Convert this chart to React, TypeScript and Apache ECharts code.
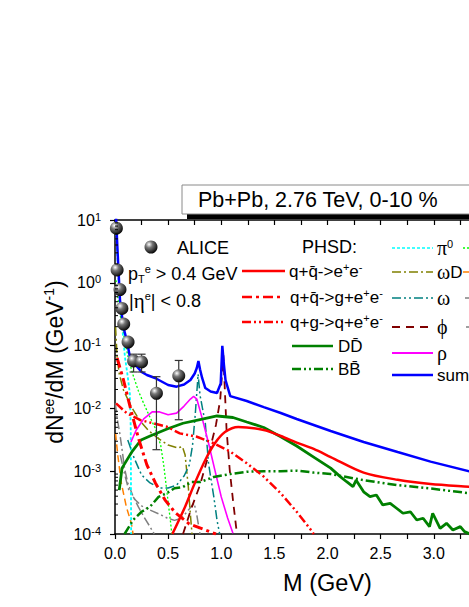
import React, { useEffect, useRef } from 'react';
import * as echarts from 'echarts';

// ---------- data (M in GeV, dN/dM in 1/GeV) ----------
const aliceM = [0.013, 0.02, 0.047, 0.065, 0.082, 0.123, 0.175, 0.25, 0.39, 0.6];
const aliceV = [7.4, 1.6, 0.78, 0.39, 0.22, 0.114, 0.057, 0.055, 0.0174, 0.033];
const aliceLo = [6.6, 1.4, 0.68, 0.34, 0.19, 0.1, 0.038, 0.038, 0.0022, 0.0066];
const aliceHi = [8.2, 1.8, 0.88, 0.44, 0.25, 0.13, 0.073, 0.073, 0.032, 0.058];

const sumData = [[0.01, 11], [0.02, 4.5], [0.031, 1.8], [0.047, 0.53], [0.078, 0.2], [0.11, 0.123], [0.14, 0.0665], [0.19, 0.05], [0.25, 0.038], [0.3, 0.034], [0.377, 0.0305], [0.5, 0.0236], [0.58, 0.0222], [0.65, 0.024], [0.71, 0.0283], [0.75, 0.036], [0.77, 0.044], [0.785, 0.057], [0.8, 0.042], [0.82, 0.0305], [0.85, 0.0211], [0.9, 0.0186], [0.96, 0.0176], [0.995, 0.025], [1.01, 0.099], [1.025, 0.05], [1.04, 0.0283], [1.085, 0.0157], [1.24, 0.0131], [1.4, 0.0105], [1.56, 0.00845], [1.71, 0.00678], [1.87, 0.00545], [2.03, 0.00437], [2.34, 0.00292], [2.66, 0.00202], [2.97, 0.00142], [3.34, 0.00099], [3.45, 0.0009]];

const ddbarData = [[0.04, 5e-4], [0.066, 1.12e-3], [0.16, 2.05e-3], [0.245, 3.14e-3], [0.33, 3.64e-3], [0.49, 4.7e-3], [0.64, 5.8e-3], [0.8, 6.65e-3], [0.96, 7.57e-3], [1.11, 7.16e-3], [1.24, 6.07e-3], [1.4, 4.97e-3], [1.56, 3.54e-3], [1.71, 2.52e-3], [1.87, 1.68e-3], [2.03, 1.12e-3], [2.12, 8.2e-4], [2.18, 6.8e-4], [2.24, 5.66e-4], [2.27, 7.2e-4], [2.34, 4.7e-4], [2.4, 3.93e-4], [2.46, 4.18e-4], [2.52, 2.9e-4], [2.59, 3.08e-4], [2.65, 2.57e-4], [2.71, 2.14e-4], [2.78, 2.26e-4], [2.84, 1.67e-4], [2.9, 1.78e-4], [2.96, 1.31e-4], [2.99, 2.14e-4], [3.06, 1.23e-4], [3.12, 1.48e-4], [3.18, 1.16e-4], [3.25, 1.31e-4], [3.29, 1.09e-4], [3.4, 9e-5]];

const bbbarData = [[0.09, 1.0e-4], [0.17, 1.67e-4], [0.25, 2.26e-4], [0.33, 2.72e-4], [0.41, 3.9e-4], [0.49, 4.5e-4], [0.56, 5.35e-4], [0.64, 5.6e-4], [0.72, 6.7e-4], [0.8, 6.7e-4], [0.93, 8.1e-4], [1.085, 9.0e-4], [1.24, 9.8e-4], [1.4, 1.0e-3], [1.56, 1.0e-3], [1.71, 1.02e-3], [1.87, 9.5e-4], [2.03, 9.0e-4], [2.34, 7.2e-4], [2.66, 6.0e-4], [2.97, 5.3e-4], [3.34, 4.45e-4], [3.45, 4.2e-4]];

const qqData = [[0.54, 1e-4], [0.66, 2.72e-4], [0.75, 6.4e-4], [0.85, 1.51e-3], [0.94, 2.78e-3], [1.035, 4.2e-3], [1.16, 5.06e-3], [1.4, 4.53e-3], [1.56, 3.64e-3], [1.71, 2.86e-3], [1.87, 2.26e-3], [2.03, 1.68e-3], [2.34, 9.5e-4], [2.66, 7.3e-4], [2.97, 6.25e-4], [3.34, 5.66e-4], [3.45, 5.5e-4]];

const qqgData = [[0.02, 0.0635], [0.08, 0.0283], [0.15, 9.4e-3], [0.22, 3.38e-3], [0.3, 1.26e-3], [0.38, 6.5e-4], [0.47, 3.5e-4], [0.57, 2.16e-4], [0.7, 1.44e-4], [0.85, 1.16e-4], [0.95, 1.0e-4]];

const qgData = [[0.01, 0.012], [0.11, 8.4e-3], [0.24, 6.5e-3], [0.49, 5.1e-3], [0.61, 4.0e-3], [0.77, 3.54e-3], [0.93, 2.78e-3], [1.085, 2.05e-3], [1.24, 1.34e-3], [1.4, 8.2e-4], [1.56, 4.45e-4], [1.71, 2.26e-4], [1.855, 1.1e-4], [1.87, 1.0e-4]];

const rhoData = [[0.15, 2.92e-3], [0.2, 4.53e-3], [0.27, 6.8e-3], [0.35, 8.8e-3], [0.42, 8.8e-3], [0.5, 7.9e-3], [0.58, 8.4e-3], [0.65, 0.0109], [0.71, 0.0141], [0.74, 0.0155], [0.77, 0.0141], [0.82, 7.0e-3], [0.88, 2.81e-3], [0.94, 1.04e-3], [1.0, 3.9e-4], [1.06, 1.8e-4], [1.11, 1.03e-4]];

const omegaData = [[0.12, 3.14e-3], [0.18, 1.62e-3], [0.25, 8.7e-4], [0.33, 6.5e-4], [0.42, 5.4e-4], [0.5, 5.4e-4], [0.58, 6.0e-4], [0.65, 8.4e-4], [0.7, 1.26e-3], [0.73, 2.61e-3], [0.755, 7.9e-3], [0.775, 0.0236], [0.782, 0.035], [0.8, 0.0163], [0.85, 5.8e-3], [0.88, 1.34e-3], [0.93, 3.9e-4], [0.96, 1.67e-4], [0.985, 1.0e-4]];

const phiData = [[0.64, 1e-4], [0.72, 2.6e-4], [0.8, 6e-4], [0.88, 1.81e-3], [0.95, 5.45e-3], [0.99, 0.0136], [1.02, 0.07], [1.05, 4.53e-3], [1.08, 1.04e-3], [1.11, 3.5e-4], [1.14, 1.29e-4], [1.15, 1e-4]];

const pi0Data = [[0.01, 9], [0.03, 1.4], [0.05, 0.45], [0.07, 0.18], [0.094, 0.065], [0.12, 0.032], [0.14, 0.017], [0.148, 5e-3], [0.15, 1e-3], [0.152, 1e-4]];

const etaData = [[0.01, 1.1], [0.03, 0.53], [0.06, 0.23], [0.09, 0.125], [0.125, 0.063], [0.17, 0.034], [0.22, 0.019], [0.27, 0.012], [0.32, 7.8e-3], [0.38, 4.8e-3], [0.43, 2.6e-3], [0.46, 1.2e-3], [0.49, 4.5e-4], [0.52, 1.7e-4], [0.535, 1.0e-4]];

const omegaDData = [[0.005, 0.2], [0.02, 0.0658], [0.04, 0.0353], [0.08, 0.0196], [0.15, 0.0109], [0.23, 6.5e-3], [0.31, 4.53e-3], [0.4, 3.38e-3], [0.5, 2.61e-3], [0.59, 2.34e-3], [0.635, 2.46e-3], [0.66, 1.81e-3], [0.69, 5.6e-4], [0.71, 2.0e-4], [0.725, 1.0e-4]];

const orangeData = [[0.005, 4e-3], [0.028, 1.7e-3], [0.06, 6.4e-4], [0.107, 2.7e-4], [0.154, 1.48e-4], [0.17, 1.0e-4]];

const grayAData = [[0.003, 0.012], [0.02, 7e-3], [0.045, 4e-3], [0.07, 2e-3], [0.09, 1.1e-3], [0.12, 6.5e-4], [0.17, 4e-4], [0.22, 2.7e-4], [0.27, 1.9e-4], [0.33, 1.3e-4], [0.37, 1.0e-4]];

const grayBData = [[0.05, 1.8e-3], [0.09, 9e-4], [0.13, 5e-4], [0.19, 3.5e-4], [0.25, 2.8e-4], [0.33, 2.4e-4], [0.41, 2.1e-4], [0.49, 1.8e-4], [0.56, 1.65e-4], [0.63, 1.8e-4], [0.69, 2.4e-4], [0.745, 3.1e-4], [0.77, 2e-4], [0.8, 1e-4]];

const yMinorTicks = [2, 3, 4, 5, 6, 7, 8, 9];
const yDecades = [1e-4, 1e-3, 1e-2, 1e-1, 1];

// tick labels visible in the (cropped) figure
const xTickLabels = ['0.0', '0.5', '1.0', '1.5', '2.0', '2.5', '3.0'];

const FONT = "'Liberation Sans', Arial, Helvetica, sans-serif";
const SERIF = "'Liberation Serif', 'DejaVu Serif', serif";
const DASH_DOT = [9, 3, 2, 3];
const DASH_DOT_DOT = [9, 3, 2, 3, 2, 3];

function lineSeries(name: string, data: number[][], color: string, width: number, type: any, z = 2, smooth: any = false) {
  return {
    type: 'line',
    name,
    data,
    symbol: 'none',
    showSymbol: false,
    smooth,
    clip: true,
    z,
    lineStyle: { color, width, type },
  };
}

export default function App() {
  const ref = useRef<HTMLDivElement>(null);

  useEffect(() => {
    if (!ref.current) return;
    const chart = echarts.init(ref.current, null, { renderer: 'svg' });

    const sphere = {
      type: 'radial', x: 0.35, y: 0.3, r: 0.75,
      colorStops: [
        { offset: 0, color: '#ffffff' },
        { offset: 0.35, color: '#777777' },
        { offset: 1, color: '#000000' },
      ],
    };

    const minorTickData: number[][] = [];
    yDecades.forEach((d) => yMinorTicks.forEach((m) => minorTickData.push([0, m * d])));

    const supRich = {
      a: { fontSize: 16, fontFamily: FONT, color: '#000', lineHeight: 18 },
      s: { fontSize: 11, fontFamily: FONT, color: '#000', verticalAlign: 'top', lineHeight: 12 },
    };
    const mkRich = (size: number) => ({
      a: { fontSize: size, fontFamily: FONT, color: '#000', lineHeight: size + 3 },
      g: { fontSize: size + 3, fontFamily: SERIF, color: '#000', lineHeight: size + 3 },
      s: { fontSize: 11, fontFamily: FONT, color: '#000', verticalAlign: 'top', lineHeight: 11 },
      b: { fontSize: 11, fontFamily: FONT, color: '#000', verticalAlign: 'bottom', lineHeight: 11 },
    });

    const legText = (x: number, y: number, text: string, size = 17) => ({
      type: 'text', x, y, z: 100,
      style: { text, rich: mkRich(size), fontSize: size, fontFamily: FONT, fill: '#000', align: 'left', verticalAlign: 'middle' },
    });
    const legLine = (x1: number, x2: number, y: number, stroke: string, lineWidth: number, lineDash: any) => ({
      type: 'line', z: 100,
      shape: { x1, y1: y, x2, y2: y },
      style: { stroke, lineWidth, lineDash },
    });

    const graphic: any[] = [
      // title box
      { type: 'rect', z: 100, shape: { x: 187, y: 190, width: 340, height: 29 }, style: { fill: '#000' } },
      { type: 'rect', z: 101, shape: { x: 182, y: 185, width: 340, height: 29 }, style: { fill: '#fff', stroke: '#8a8a8a', lineWidth: 1 } },
      { type: 'text', z: 102, x: 198, y: 200, style: { text: 'Pb+Pb, 2.76 TeV, 0-10 %', fontSize: 21.5, fontFamily: FONT, fill: '#000', align: 'left', verticalAlign: 'middle' } },
      // y axis title
      {
        type: 'text', z: 100, x: 55, y: 362, rotation: Math.PI / 2,
        style: {
          text: '{a|dN}{s|ee}{a|/dM (GeV}{s|-1}{a|)}',
          rich: {
            a: { fontSize: 23, fontFamily: FONT, color: '#000', lineHeight: 26 },
            s: { fontSize: 14, fontFamily: FONT, color: '#000', verticalAlign: 'top', lineHeight: 14 },
          },
          align: 'center', verticalAlign: 'middle',
        },
      },
      // ALICE legend
      { type: 'circle', z: 100, shape: { cx: 151, cy: 247, r: 6.5 }, style: { fill: sphere } },
      { type: 'text', z: 100, x: 177, y: 248, style: { text: 'ALICE', fontSize: 18, fontFamily: FONT, fill: '#000', align: 'left', verticalAlign: 'middle' } },
      legText(128, 274, '{a|p}{b|T}{s|e}{a| > 0.4 GeV}', 18),
      legText(129, 301, '{a||}{g|η}{s|e}{a|| < 0.8}', 18),
      { type: 'text', z: 100, x: 302, y: 247, style: { text: 'PHSD:', fontSize: 18, fontFamily: FONT, fill: '#000', align: 'left', verticalAlign: 'middle' } },
      // column 2
      legLine(242, 285, 271, '#ff0000', 2.5, null),
      legText(289, 271, '{a|q+q\u0304->e}{s|+}{a|e}{s|-}'),
      legLine(242, 281, 297, '#ff0000', 2.5, [10, 4, 3, 4]),
      legText(290, 297, '{a|q+q\u0304->g+e}{s|+}{a|e}{s|-}'),
      legLine(242, 283, 322, '#ff0000', 2.5, DASH_DOT_DOT),
      legText(290, 322, '{a|q+g->q+e}{s|+}{a|e}{s|-}'),
      legLine(292, 333, 346, '#008000', 2.5, null),
      legText(338, 346, '{a|DD\u0304}'),
      legLine(292, 333, 369, '#008000', 2.5, DASH_DOT_DOT),
      legText(338, 369, '{a|BB\u0304}'),
      // column 3
      legLine(392, 433, 248, '#00ffff', 1.5, [3, 2]),
      legText(437, 248, '{g|π}{s|0}'),
      legLine(392, 433, 272, '#808000', 1.5, DASH_DOT),
      legText(437, 272, '{g|ω}{a|D}'),
      legLine(392, 433, 298, '#008080', 1.5, DASH_DOT_DOT),
      legText(437, 298, '{g|ω}'),
      legLine(392, 433, 327, '#800000', 1.8, [8, 6]),
      legText(437, 327, '{g|\u03d5}'),
      legLine(392, 433, 353, '#ff00ff', 1.8, null),
      legText(437, 353, '{g|ρ}'),
      legLine(392, 433, 375, '#0000ff', 2.5, null),
      legText(437, 375, '{a|sum}'),
      // column 4 (cut off by the frame)
      legLine(463, 505, 248, '#00ff00', 1.5, [2, 2]),
      legLine(463, 505, 272, '#ff8000', 1.5, [7, 4]),
      legLine(465, 505, 298, '#808080', 1.5, DASH_DOT),
      legLine(466, 505, 327, '#808080', 1.5, DASH_DOT_DOT),
    ];

    const xCommon = {
      type: 'value', min: 0, max: 4, interval: 0.5,
      splitLine: { show: false },
      minorSplitLine: { show: false },
      axisLine: { show: true, onZero: false, lineStyle: { color: '#000', width: 1.5 } },
    };

    const option: any = {
      animation: false,
      backgroundColor: '#ffffff',
      grid: { left: 115, top: 220, width: 425, height: 314, containLabel: false, outerBoundsMode: 'none' },
      graphic,
      xAxis: [
        {
          ...xCommon,
          position: 'bottom',
          axisTick: { show: true, inside: false, length: 5, lineStyle: { color: '#000', width: 1.2 } },
          minorTick: { show: true, splitNumber: 2, length: 5, lineStyle: { color: '#000', width: 1.2 } },
          axisLabel: {
            show: true, margin: 11, fontSize: 16, fontFamily: FONT, color: '#000',
            formatter: (v: number) => xTickLabels[Math.round(v / 0.5)] ?? '',
          },
          name: 'M (GeV)', nameLocation: 'middle', nameGap: 37,
          nameTextStyle: { fontSize: 23.5, fontFamily: FONT, color: '#000' },
        },
        {
          ...xCommon,
          position: 'top',
          axisTick: { show: true, inside: true, length: 5, lineStyle: { color: '#000', width: 1.2 } },
          minorTick: { show: true, splitNumber: 2, length: 5, lineStyle: { color: '#000', width: 1.2 } },
          axisLabel: { show: false },
        },
      ],
      yAxis: {
        type: 'log', logBase: 10, min: 1e-4, max: 10,
        splitLine: { show: false },
        axisLine: { show: true, onZero: false, lineStyle: { color: '#000', width: 1.5 } },
        axisTick: { show: true, inside: false, length: 5, lineStyle: { color: '#000', width: 1.2 } },
        axisLabel: {
          margin: 14,
          formatter: (v: number) => `{a|10}{s|${Math.round(Math.log10(v))}}`,
          rich: supRich,
        },
      },
      series: [
        {
          type: 'custom', name: 'yminor', data: minorTickData, z: 6, silent: true,
          encode: { x: 0, y: 1 },
          renderItem: (params: any, api: any) => {
            const p = api.coord([api.value(0), api.value(1)]);
            return { type: 'line', shape: { x1: p[0], y1: p[1], x2: p[0] + 3, y2: p[1] }, style: { stroke: '#000', lineWidth: 1 } };
          },
        },
        lineSeries('grayB', grayBData, '#808080', 1.5, DASH_DOT_DOT),
        lineSeries('grayA', grayAData, '#808080', 1.5, DASH_DOT),
        lineSeries('orange', orangeData, '#ff8000', 1.5, [7, 4]),
        lineSeries('eta', etaData, '#00ff00', 1.3, [2, 2]),
        lineSeries('pi0', pi0Data, '#00ffff', 1.8, [3, 2]),
        lineSeries('omegaD', omegaDData, '#808000', 1.5, DASH_DOT),
        lineSeries('omega', omegaData, '#008080', 1.5, DASH_DOT_DOT),
        lineSeries('phi', phiData, '#800000', 1.8, [8, 6]),
        lineSeries('rho', rhoData, '#ff00ff', 1.6, 'solid'),
        lineSeries('BBbar', bbbarData, '#008000', 2.5, DASH_DOT_DOT),
        lineSeries('DDbar', ddbarData, '#008000', 2.8, 'solid'),
        lineSeries('qg', qgData, '#ff0000', 2.5, DASH_DOT_DOT),
        lineSeries('qqg', qqgData, '#ff0000', 3, [10, 4, 3, 4]),
        lineSeries('qq', qqData, '#ff0000', 2.5, 'solid', 2, 0.3),
        lineSeries('sum', sumData, '#0000ff', 2.5, 'solid', 3),
        {
          type: 'custom', name: 'ALICE err', z: 4,
          data: aliceM.map((m, i) => [m, aliceLo[i], aliceHi[i]]),
          encode: { x: 0, y: [1, 2] },
          renderItem: (params: any, api: any) => {
            const x = api.value(0);
            const pHi = api.coord([x, api.value(2)]);
            const pLo = api.coord([x, api.value(1)]);
            const w = 4;
            const st = { stroke: '#333', lineWidth: 1.2 };
            return {
              type: 'group',
              children: [
                { type: 'line', shape: { x1: pHi[0], y1: pHi[1], x2: pLo[0], y2: pLo[1] }, style: st },
                { type: 'line', shape: { x1: pHi[0] - w, y1: pHi[1], x2: pHi[0] + w, y2: pHi[1] }, style: st },
                { type: 'line', shape: { x1: pLo[0] - w, y1: pLo[1], x2: pLo[0] + w, y2: pLo[1] }, style: st },
              ],
            };
          },
        },
        {
          type: 'scatter', name: 'ALICE', z: 5,
          data: aliceM.map((m, i) => [m, aliceV[i]]),
          symbol: 'circle', symbolSize: 13,
          itemStyle: { color: sphere, opacity: 1 },
        },
      ],
    };

    chart.setOption(option);
    return () => chart.dispose();
  }, []);

  return (
    <div style={{ position: 'fixed', left: 0, top: 0, width: 469, height: 607, overflow: 'hidden', background: '#fff' }}>
      <div ref={ref} style={{ width: 469, height: 607 }} />
    </div>
  );
}
